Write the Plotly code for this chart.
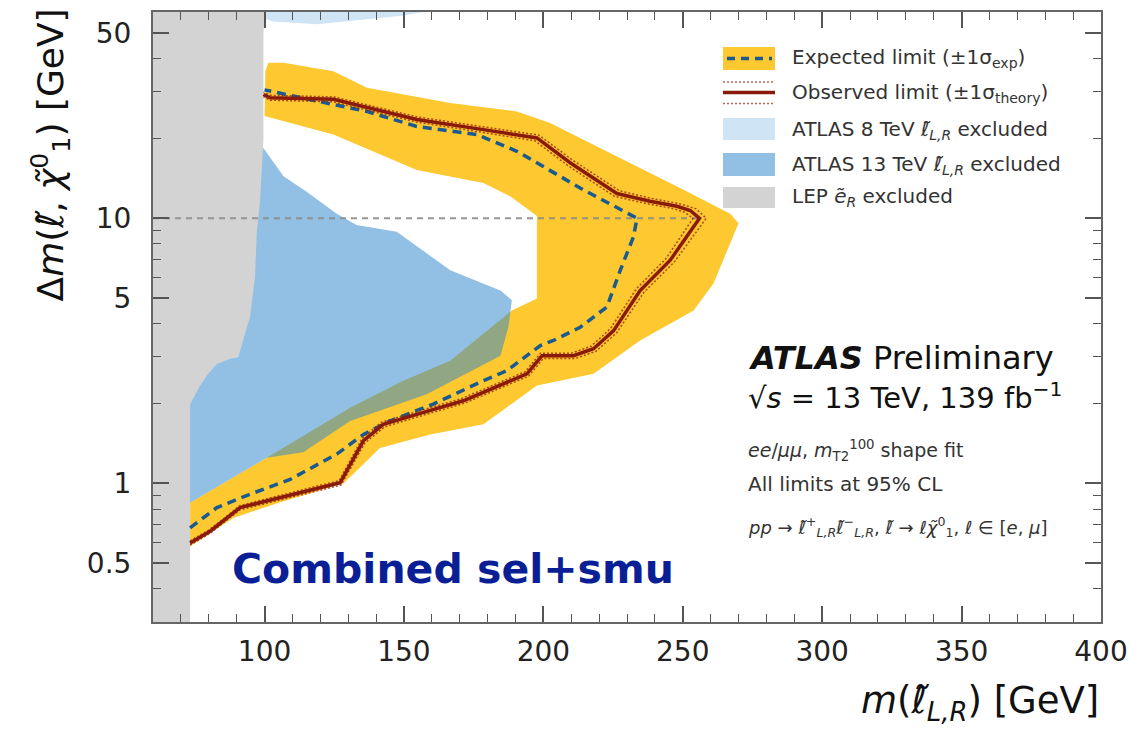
import plotly.graph_objects as go

# ---------------- data ----------------
# Observed limit contour
obs_x = [73.3, 80.5, 91.2, 127.1, 135.5, 142.6, 154.6, 171.3, 194.1, 199.5, 210.8, 218.0, 225.2, 234.7,
         245.5, 252.7, 256.0, 252.7, 247.9, 238.3, 226.4, 209.6, 197.7, 178.5, 154.6, 124.7, 102.0, 99.6]
obs_y = [0.596, 0.66, 0.81, 1.005, 1.45, 1.67, 1.82, 2.05, 2.59, 3.03, 3.03, 3.22, 3.77, 5.34,
         6.95, 8.9, 10.0, 10.7, 11.1, 11.6, 12.4, 16.2, 20.1, 21.6, 23.6, 28.1, 28.5, 29.3]

# Observed +/- 1 sigma theory
thup_x = [73.3, 80.5, 91.2, 127.4, 136.0, 143.1, 155.2, 171.9, 194.7, 200.0, 211.5, 218.9, 226.3, 236.0,
          247.0, 254.6, 258.4, 254.8, 249.6, 239.4, 227.3, 210.4, 198.4, 178.9, 154.9, 124.9, 102.0, 99.6]
thup_y = [0.585, 0.648, 0.795, 0.985, 1.42, 1.635, 1.785, 2.01, 2.54, 2.96, 2.96, 3.15, 3.7, 5.25,
          6.85, 8.83, 10.0, 10.85, 11.3, 11.85, 12.7, 16.6, 20.6, 22.1, 24.1, 28.7, 29.1, 29.9]
thdn_x = [73.3, 80.5, 91.2, 126.8, 135.0, 142.1, 154.0, 170.7, 193.5, 199.0, 210.1, 217.1, 224.1, 233.4,
          244.0, 250.8, 253.7, 250.6, 246.2, 237.2, 225.5, 208.8, 197.0, 178.1, 154.3, 124.5, 102.0, 99.6]
thdn_y = [0.607, 0.672, 0.825, 1.025, 1.48, 1.705, 1.855, 2.09, 2.64, 3.1, 3.1, 3.29, 3.84, 5.43,
          7.05, 8.97, 10.0, 10.55, 10.9, 11.35, 12.1, 15.8, 19.6, 21.1, 23.1, 27.5, 27.9, 28.7]

# Expected limit contour
exp_x = [73.3, 82.9, 94.8, 109.2, 125.9, 135.5, 145.0, 160.5, 178.5, 186.9, 198.9, 203.6, 213.2, 222.8,
         227.6, 232.3, 233.6, 214.4, 190.5, 176.1, 154.6, 136.7, 118.7, 102.0, 100.0]
exp_y = [0.68, 0.81, 0.91, 1.035, 1.29, 1.53, 1.72, 1.99, 2.44, 2.66, 3.31, 3.46, 3.88, 4.63,
         6.37, 8.5, 10.0, 12.8, 17.9, 20.7, 22.2, 25.3, 27.7, 30.2, 30.5]

# Expected +/- 1 sigma band: outer edge (bottom-left -> tip -> top-left)
band_out_x = [73.3, 88.8, 106.8, 128.3, 141.4, 159.4, 178.5, 197.7, 218.0, 234.7, 253.9, 261.0, 270.0,
              267.0, 250.3, 226.4, 202.4, 190.5, 166.6, 136.7, 124.7, 106.8, 101.4, 100.3]
band_out_y = [0.579, 0.741, 0.857, 1.0, 1.36, 1.53, 1.67, 2.34, 2.59, 3.46, 4.49, 5.67, 9.58,
              10.4, 12.8, 17.1, 22.9, 25.3, 27.2, 31.1, 35.9, 38.6, 38.6, 36.0]
# inner edge (top-left -> bottom-left)
band_in_x = [100.0, 124.7, 154.6, 178.5, 188.1, 197.7, 197.7, 188.7, 166.6, 149.8, 130.7, 100.8, 73.3]
band_in_y = [24.3, 20.7, 15.2, 13.6, 12.1, 10.2, 4.98, 4.49, 2.9, 2.44, 1.93, 1.25, 0.845]

# ATLAS 13 TeV excluded region
a13_x = [72.0, 73.3, 100.8, 113.9, 130.7, 158.2, 184.6, 187.5, 188.7, 184.6, 166.6, 147.4, 133.0,
         125.9, 115.1, 106.8, 99.6, 72.0]
a13_y = [0.83, 0.845, 1.25, 1.31, 1.72, 2.17, 3.03, 3.9, 4.91, 5.34, 6.37, 8.9, 9.43,
         10.4, 12.6, 14.4, 18.4, 18.4]

# ATLAS 8 TeV excluded region
a8_x = [100.5, 100.5, 103.0, 118.7, 136.7, 148.6, 157.0]
a8_y = [60.0, 56.5, 55.3, 54.0, 56.4, 58.0, 60.0]

# LEP excluded region
lep_x = [60.0, 73.3, 73.3, 74.5, 76.5, 79.3, 82.9, 87.6, 90.6, 93.0, 94.8, 96.6, 97.2, 98.4, 99.6, 99.6, 100.2, 60.0]
lep_y = [0.3, 0.3, 1.99, 2.1, 2.3, 2.55, 2.82, 2.95, 2.99, 3.67, 4.24, 6.0, 8.77, 11.7, 19.8, 50.0, 60.0, 60.0]

# 10 GeV reference line
ref_x = [60.0, 256.0]
ref_y = [10.0, 10.0]

# axes
x_range = [60, 400]
y_range_log = [-0.5229, 1.7782]
x_major = [100, 150, 200, 250, 300, 350, 400]
x_minor = [60, 70, 80, 90, 110, 120, 130, 140, 160, 170, 180, 190, 210, 220, 230, 240,
           260, 270, 280, 290, 310, 320, 330, 340, 360, 370, 380, 390]
y_major = [0.5, 1, 5, 10, 50]
y_major_text = ["0.5", "1", "5", "10", "50"]
y_minor = [0.3, 0.4, 0.6, 0.7, 0.8, 0.9, 2, 3, 4, 6, 7, 8, 9, 20, 30, 40, 60]

# ---------------- style ----------------
FONT = "DejaVu Sans"
YELLOW = "#fdc830"
BLUE13 = "rgba(49,136,204,0.53)"
BLUE8 = "#cfe4f5"
GREY = "#d3d3d3"
OBS = "#8a1a0c"
EXPC = "#1b5a8e"
TXT = "#333333"

fig = go.Figure()

def area(x, y, color):
    fig.add_trace(go.Scatter(x=x, y=y, mode="lines", fill="toself", fillcolor=color,
                             line=dict(width=0), hoverinfo="skip", showlegend=False))

area(a8_x, a8_y, BLUE8)
area(band_out_x + band_in_x, band_out_y + band_in_y, YELLOW)
area(a13_x, a13_y, BLUE13)
area(lep_x, lep_y, GREY)

fig.add_trace(go.Scatter(x=ref_x, y=ref_y, mode="lines",
                         line=dict(color="rgba(140,140,140,0.9)", width=2, dash="6px,5px"),
                         hoverinfo="skip", showlegend=False))
fig.add_trace(go.Scatter(x=exp_x, y=exp_y, mode="lines",
                         line=dict(color=EXPC, width=3.5, dash="9px,6px"),
                         hoverinfo="skip", showlegend=False))
for tx, ty in [(thup_x, thup_y), (thdn_x, thdn_y)]:
    fig.add_trace(go.Scatter(x=tx, y=ty, mode="lines",
                             line=dict(color="rgba(150,40,20,0.8)", width=1.5, dash="2px,2px"),
                             hoverinfo="skip", showlegend=False))
fig.add_trace(go.Scatter(x=obs_x, y=obs_y, mode="lines",
                         line=dict(color=OBS, width=3.5),
                         hoverinfo="skip", showlegend=False))

tickfont = dict(family=FONT, size=28, color="#222222")
fig.update_xaxes(range=x_range, tickmode="array", tickvals=x_major, ticks="inside", ticklen=16,
                 tickwidth=1.5, tickcolor="#555555",
                 minor=dict(tickmode="array", tickvals=x_minor, ticks="inside", ticklen=8,
                            tickwidth=1.2, tickcolor="#555555"),
                 showline=True, linecolor="#666666", linewidth=2, mirror="ticks",
                 showgrid=False, zeroline=False, tickfont=tickfont, ticklabelstandoff=3,
                 automargin=False)
fig.update_yaxes(type="log", range=y_range_log, tickmode="array", tickvals=y_major,
                 ticktext=y_major_text, ticks="inside", ticklen=16, tickwidth=1.5, tickcolor="#555555",
                 minor=dict(tickmode="array", tickvals=y_minor, ticks="inside", ticklen=8,
                            tickwidth=1.2, tickcolor="#555555"),
                 showline=True, linecolor="#666666", linewidth=2, mirror="ticks",
                 showgrid=False, zeroline=False, tickfont=tickfont, ticklabelstandoff=14,
                 automargin=False)

# ---------------- hand-drawn legend (paper coordinates) ----------------
L = 153.0; T = 12.0; W = 948.0; H = 610.0
def px(xp):
    return (xp - L) / W
def py(yp):
    return (T + H - yp) / H

shapes = []
def box(y0, y1, color):
    shapes.append(dict(type="rect", xref="paper", yref="paper", x0=px(723), x1=px(775),
                       y0=py(y1), y1=py(y0), fillcolor=color, line=dict(width=0), layer="above"))
def hline(y, color, width, dash, x0=723, x1=775):
    shapes.append(dict(type="line", xref="paper", yref="paper", x0=px(x0), x1=px(x1),
                       y0=py(y), y1=py(y), line=dict(color=color, width=width, dash=dash), layer="above"))

box(47, 70, YELLOW)
hline(58.5, EXPC, 3.5, "8px,6px", 727, 772)
hline(82, "rgba(150,40,20,0.7)", 1.5, "2px,2px")
hline(92.5, OBS, 3.5, "solid")
hline(103.5, "rgba(150,40,20,0.7)", 1.5, "2px,2px")
box(118, 140, BLUE8)
box(153, 176, BLUE13)
box(187, 208, GREY)
fig.update_layout(shapes=shapes)

ELL = "\u2113\u0303"
CHI = "\u03c7\u0303"
annots = []
def text(x, y, s, size, color=TXT, xanchor="left", **kw):
    d = dict(xref="paper", yref="paper", x=x, y=y, text=s, showarrow=False, xanchor=xanchor,
             yanchor="middle", font=dict(family=FONT, size=size, color=color))
    d.update(kw)
    annots.append(d)

leg = [(58, "Expected limit (\u00b11\u03c3<sub>exp</sub>)"),
       (93, "Observed limit (\u00b11\u03c3<sub>theory</sub>)"),
       (130, "ATLAS 8 TeV <i>" + ELL + "</i><sub><i>L,R</i></sub> excluded"),
       (165, "ATLAS 13 TeV <i>" + ELL + "</i><sub><i>L,R</i></sub> excluded"),
       (197, "LEP <i>e\u0303</i><sub><i>R</i></sub> excluded")]
for yy, s in leg:
    text(px(790), py(yy), s, 20)

text(px(746), py(358), "<b><i>ATLAS</i></b> Preliminary", 32, color="#111111")
text(px(746), py(396), "\u221a<i>s</i> = 13 TeV, 139 fb<sup>\u22121</sup>", 29, color="#111111")
text(px(746), py(451), "<i>ee</i>/<i>\u03bc\u03bc</i>, <i>m</i><sub>T2</sub><sup>100</sup> shape fit", 19)
text(px(746), py(484), "All limits at 95% CL", 20)
text(px(746), py(527),
     "<i>pp</i> \u2192 <i>" + ELL + "</i><sup>+</sup><sub><i>L,R</i></sub><i>" + ELL +
     "</i><sup>\u2212</sup><sub><i>L,R</i></sub>, <i>" + ELL + "</i> \u2192 <i>\u2113" + CHI +
     "</i><sup>0</sup><sub>1</sub>, <i>\u2113</i> \u2208 [<i>e</i>, <i>\u03bc</i>]", 18)

text(px(230), py(569), "<b>Combined sel+smu</b>", 41, color="#0a1f96")

# axis titles
text(1.0, py(703), "<i>m</i>(<i>" + ELL + "</i><sub><i>L,R</i></sub>) [GeV]", 37, color="#111111",
     xanchor="right")
annots.append(dict(xref="paper", yref="paper", x=px(50), y=py(7), textangle=-90, showarrow=False,
                   xanchor="center", yanchor="top",
                   text="\u0394<i>m</i>(<i>" + ELL + "</i>, <i>" + CHI + "</i><sup>0</sup><sub>1</sub>) [GeV]",
                   font=dict(family=FONT, size=36, color="#111111")))
fig.update_layout(annotations=annots)

fig.update_layout(width=1130, height=742, margin=dict(l=153, r=29, t=12, b=120, autoexpand=False),
                  paper_bgcolor="white", plot_bgcolor="white", showlegend=False)

fig.write_html("out.html")
